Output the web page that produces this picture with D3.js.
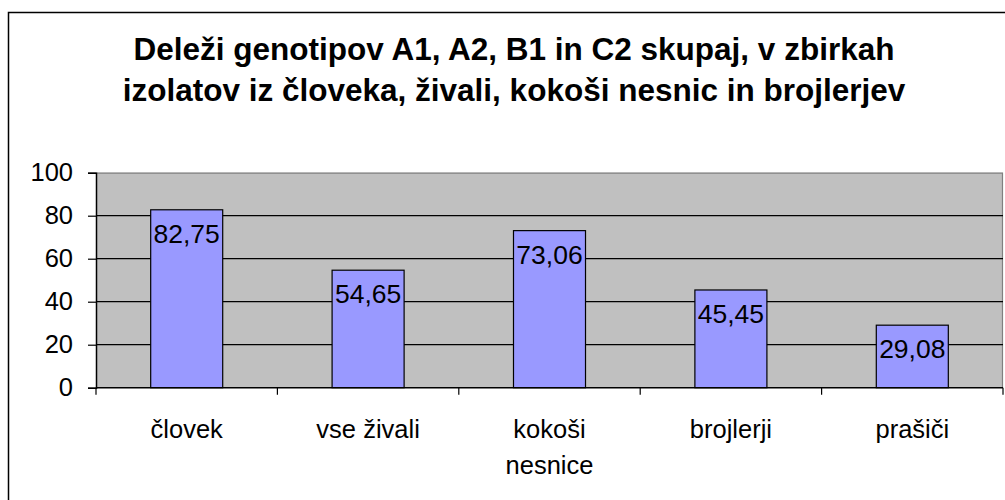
<!DOCTYPE html>
<html>
<head>
<meta charset="utf-8">
<script src="https://cdn.jsdelivr.net/npm/d3@7"></script>
<style>
  html, body { margin: 0; padding: 0; background: #fff; }
  svg { display: block; }
  text { font-family: Arial, "Liberation Sans", sans-serif; fill: #000; }
</style>
</head>
<body>
<svg id="chart" width="1005" height="500"></svg>
<script>
// Chart data
const titleLines = [
  "Deleži genotipov A1, A2, B1 in C2 skupaj, v zbirkah",
  "izolatov iz človeka, živali, kokoši nesnic in brojlerjev"
];
const categories = ["človek", "vse živali", "kokoši nesnice", "brojlerji", "prašiči"];
const categoryLines = [["človek"], ["vse živali"], ["kokoši", "nesnice"], ["brojlerji"], ["prašiči"]];
const values = [82.75, 54.65, 73.06, 45.45, 29.08];
const yTicks = [0, 20, 40, 60, 80, 100];

const svg = d3.select("#chart");
const W = 1005, H = 500;

// Outer chart frame
svg.append("rect")
  .attr("x", 8.5).attr("y", 12.5)
  .attr("width", W + 20).attr("height", H + 20)
  .attr("fill", "#fff").attr("stroke", "#000").attr("stroke-width", 1.5);

// Title
const title = svg.append("text")
  .attr("text-anchor", "middle")
  .attr("font-weight", "bold")
  .attr("font-size", 31.5);
titleLines.forEach((line, i) => {
  title.append("tspan").attr("x", 514).attr("y", 60 + i * 41).text(line);
});

// Plot area
const plot = { left: 96, right: 1003, top: 172.7, bottom: 387.7 };

const x = d3.scaleBand()
  .domain(categories)
  .range([plot.left, plot.right])
  .padding(0);

const y = d3.scaleLinear()
  .domain([0, 100])
  .range([plot.bottom, plot.top]);

svg.append("rect")
  .attr("x", plot.left).attr("y", plot.top)
  .attr("width", plot.right - plot.left).attr("height", plot.bottom - plot.top)
  .attr("fill", "#C0C0C0");

// Plot-area border (top and right)
svg.append("path")
  .attr("d", `M${plot.left},${plot.top + 0.5}H${plot.right - 0.5}V${plot.bottom}`)
  .attr("fill", "none").attr("stroke", "#808080").attr("stroke-width", 1.2);

// Horizontal gridlines
svg.append("g")
  .selectAll("line")
  .data(yTicks.filter(t => t > 0 && t < 100))
  .join("line")
  .attr("x1", plot.left).attr("x2", plot.right)
  .attr("y1", d => y(d)).attr("y2", d => y(d))
  .attr("stroke", "#000").attr("stroke-width", 1.2);

// Bars
const barFrac = 0.397;
const barW = x.bandwidth() * barFrac;
svg.append("g")
  .selectAll("rect")
  .data(values)
  .join("rect")
  .attr("x", (d, i) => x(categories[i]) + (x.bandwidth() - barW) / 2)
  .attr("y", d => y(d))
  .attr("width", barW)
  .attr("height", d => y(0) - y(d))
  .attr("fill", "#9999FF")
  .attr("stroke", "#000").attr("stroke-width", 1.2);

// Value labels inside bar tops
svg.append("g")
  .selectAll("text")
  .data(values)
  .join("text")
  .attr("x", (d, i) => x(categories[i]) + x.bandwidth() / 2)
  .attr("y", d => y(d) + 33)
  .attr("text-anchor", "middle")
  .attr("font-size", 26.5)
  .text(d => d.toFixed(2).replace(".", ","));

// Y axis
const yAxis = d3.axisLeft(y).tickValues(yTicks).tickSize(8).tickPadding(15);
const yg = svg.append("g").attr("transform", `translate(${plot.left},0)`).call(yAxis);
yg.select(".domain").attr("stroke", "#000").attr("stroke-width", 1.5);
yg.selectAll(".tick line").attr("stroke", "#000").attr("stroke-width", 1.2);
yg.selectAll(".tick text").attr("font-size", 25.5).attr("font-family", "Arial, 'Liberation Sans', sans-serif").attr("fill", "#000");

// X axis line and category separators
const bounds = categories.map(c => x(c)).concat([plot.right]);
const xg = svg.append("g");
xg.append("line")
  .attr("x1", plot.left).attr("x2", plot.right)
  .attr("y1", plot.bottom).attr("y2", plot.bottom)
  .attr("stroke", "#000").attr("stroke-width", 1.5);
xg.selectAll("line.sep")
  .data(bounds)
  .join("line")
  .attr("class", "sep")
  .attr("x1", d => d).attr("x2", d => d)
  .attr("y1", plot.bottom).attr("y2", plot.bottom + 7)
  .attr("stroke", "#000").attr("stroke-width", 1.2);

// Category labels
const catText = xg.selectAll("text.cat")
  .data(categories)
  .join("text")
  .attr("class", "cat")
  .attr("text-anchor", "middle")
  .attr("font-size", 25.5);
catText.each(function(c, i) {
  const t = d3.select(this);
  categoryLines[i].forEach((line, j) => {
    t.append("tspan")
      .attr("x", x(c) + x.bandwidth() / 2)
      .attr("y", 438 + j * 36)
      .text(line);
  });
});
</script>
</body>
</html>
